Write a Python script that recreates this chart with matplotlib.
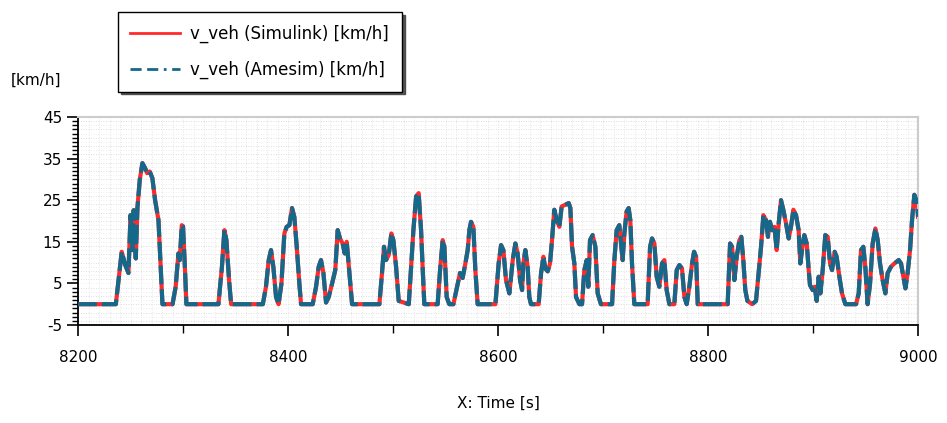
import matplotlib
matplotlib.use("Agg")
import matplotlib.pyplot as plt
import numpy as np
from matplotlib.ticker import MultipleLocator

plt.rcParams["axes.unicode_minus"] = False

# time [s] and vehicle speed [km/h]
time_s = [8200, 8236, 8241.6, 8245, 8248, 8250, 8252, 8253, 8255, 8256.6, 8258.8,
          8261.3, 8263.9, 8265.8, 8268.3, 8270.8, 8273.4, 8276.6, 8278.8, 8280.4,
          8290, 8293, 8295.6, 8296.9, 8298.8, 8300, 8302, 8303.2, 8333.7, 8337,
          8339.4, 8341.3, 8343.9, 8345.8, 8376, 8379, 8381.6, 8383.8, 8386, 8388.6,
          8391, 8393.7, 8396.5, 8398.7, 8401.3, 8403.8, 8406, 8408.3, 8410.8, 8412.4,
          8423.5, 8426.7, 8429.2, 8431.4, 8433.7, 8436.2, 8438.7, 8441.9, 8445, 8447.3,
          8449.5, 8452, 8454, 8455.9, 8458.4, 8461, 8487, 8489.5, 8491.4, 8493.3,
          8495.9, 8498.4, 8500.3, 8502.9, 8505.4, 8515, 8517, 8519.4, 8522, 8524.4,
          8526.7, 8528.3, 8529.8, 8542.5, 8544.8, 8547.3, 8548.9, 8551.1, 8553.6, 8557.5,
          8561.6, 8563.8, 8566.3, 8568.9, 8571.1, 8572.7, 8574.3, 8576.5, 8578.4, 8580.6,
          8597.5, 8600.6, 8602.9, 8605.1, 8607.6, 8610.8, 8614, 8616.5, 8618.7, 8621,
          8622.9, 8624.1, 8626, 8628.2, 8629.8, 8631.4, 8638.7, 8641, 8643.2, 8645,
          8647.3, 8649.5, 8651.4, 8653.6, 8655.9, 8658.4, 8660.6, 8664.1, 8667.3, 8668.9,
          8670.5, 8672.7, 8674.3, 8677.5, 8680, 8682.2, 8684.5, 8686, 8687.6, 8690.1,
          8692.7, 8694.9, 8698, 8708.6, 8710.8, 8713, 8715.5, 8717.1, 8718.7, 8720.3,
          8722.5, 8724.4, 8726, 8727.6, 8729.8, 8742.5, 8744.8, 8746.7, 8748.9, 8751.1,
          8753.6, 8756.2, 8758.4, 8760.6, 8763.2, 8767.9, 8770.2, 8772.7, 8775.2, 8777.5,
          8779.7, 8782.2, 8784.8, 8786.7, 8788.6, 8790.2, 8818.7, 8821, 8822.9, 8825.1,
          8827.3, 8829.9, 8831.7, 8833.6, 8835.5, 8837.5, 8842, 8845.7, 8848.2, 8850.5,
          8852.7, 8855.2, 8857.1, 8859, 8861, 8863.2, 8865.4, 8867.3, 8869.5, 8871.7,
          8874.3, 8876.8, 8879, 8881.3, 8883.8, 8886.3, 8887.9, 8889.5, 8891.7, 8894,
          8895.9, 8897.1, 8899.7, 8901.6, 8903.5, 8905.4, 8907, 8909.2, 8911.7, 8914,
          8916.2, 8918.1, 8920.6, 8922.5, 8925.1, 8927.6, 8930.8, 8941, 8943.5, 8945.7,
          8947.9, 8949.8, 8952, 8954.3, 8956.8, 8959.4, 8961.6, 8963.8, 8966.3, 8968.9,
          8971.1, 8974.3, 8977.5, 8981.6, 8983.8, 8986, 8988, 8990.1, 8992.4, 8994.3,
          8996.5, 8999, 9000]
v_simulink = [0, 0, 12.6, 9.4, 7.5, 21.4, 13, 22.6, 11, 23.3, 29.9,
              33.9, 32.7, 31.5, 31.9, 30.3, 25, 20.2, 8.2, 0,
              0, 4.2, 12.2, 10.6, 19, 18.7, 7.5, 0, 0, 8.8,
              17.8, 15.4, 5.6, 0, 0, 4.2, 10.6, 13, 9, 1.7,
              0, 4.9, 17, 18.6, 19, 23.1, 21, 13.8, 4.9, 0,
              0, 4.2, 9, 10.6, 7.5, 0.4, 1.7, 4.9, 8.2, 17.8,
              15.8, 14.6, 12.2, 15, 7.5, 0, 0, 7.5, 13.8, 10.6,
              11.8, 17, 15.4, 9, 0.8, 0, 8.2, 17.8, 25.9, 26.7,
              17.8, 8.2, 0, 0, 8.2, 15.4, 13.8, 1.7, 0, 0,
              4.9, 7.5, 6.3, 9.8, 13, 17.8, 19.8, 18.6, 8.2, 0,
              0, 9.8, 14.2, 13, 5.8, 2.6, 10.6, 14.6, 12.2, 5.8,
              3.4, 9.8, 13, 9, 1.7, 0, 0, 7.5, 11.4, 8.6,
              7.9, 9.8, 15.4, 22.7, 20.2, 18.6, 23.5, 23.9, 24.3, 23.1,
              13.8, 9.8, 1.7, 0, 0, 8.2, 10.6, 4.2, 15.4, 16.6,
              13.8, 2.6, 0, 0, 10.6, 17.8, 19, 14.6, 10.6, 17,
              22.3, 23.1, 20.2, 9.8, 0, 0, 13.8, 15.8, 14.6, 6.6,
              4.2, 9.8, 10.6, 3.4, 0, 0, 8.2, 9.4, 8.6, 1.7,
              0, 4.2, 9.8, 12.6, 11.4, 0, 0, 14.6, 13.8, 5.8,
              11.4, 15.4, 16.2, 10.6, 3.4, 0.8, 0, 0.8, 7.5, 13.8,
              21.4, 20.2, 16.2, 19.8, 17.8, 18.6, 13, 19.4, 25, 22.7,
              19.4, 15.8, 18.6, 22.7, 21.4, 17.8, 9.8, 13, 16.6, 14.6,
              8.2, 4.6, 3.4, 4.2, 0.8, 6.6, 2.6, 8.2, 16.6, 16.2,
              9.8, 8.2, 12.6, 11.4, 6.6, 2.6, 0, 0, 2.6, 13,
              13.8, 9, 0, 4.9, 14.6, 18.2, 15.4, 9.8, 5.8, 2.6,
              7.5, 9, 9.8, 10.6, 9.8, 6.6, 3.8, 7.5, 13, 20.2,
              26.3, 24.7, 21]
v_amesim = list(v_simulink)

label_sim = "v_veh (Simulink) [km/h]"
label_ame = "v_veh (Amesim) [km/h]"

fig = plt.figure(figsize=(9.47, 4.23), dpi=100)
ax = fig.add_axes([0.0824, 0.2317, 0.887, 0.4917])

# dotted background grid
for gx in np.arange(8210, 9000, 10):
    ax.axvline(gx, color="#dddddd", lw=0.6, ls=(0, (1, 2)), zorder=0)
for gy in np.arange(-4, 45, 1):
    ax.axhline(gy, color="#d2d2d2" if gy % 2 == 0 else "#ebebeb", lw=0.6, ls=(0, (1, 2)), zorder=0)

ax.plot(time_s, v_simulink, color="#ff2a2a", lw=3.0, solid_joinstyle="round", label=label_sim, zorder=2)
ax.plot(time_s, v_amesim, color="#15688a", lw=3.0, dashes=(4.5, 1.2), label=label_ame, zorder=3)

ax.set_xlim(8200, 9000)
ax.set_ylim(-5, 45)
ax.xaxis.set_major_locator(MultipleLocator(200))
ax.xaxis.set_minor_locator(MultipleLocator(100))
ax.set_yticks(np.arange(-5, 46, 10))
ax.yaxis.set_minor_locator(MultipleLocator(1))
ax.tick_params(axis="both", which="major", direction="out", length=8, width=1.2, labelsize=11, colors="black")
ax.tick_params(axis="x", which="minor", direction="out", length=6, width=1.0)
ax.tick_params(axis="y", which="minor", direction="out", length=4, width=1.0)
ax.tick_params(axis="x", pad=10)

for side in ["top", "right"]:
    ax.spines[side].set_color("#cccccc")
    ax.spines[side].set_linewidth(1.5)
for side in ["left", "bottom"]:
    ax.spines[side].set_color("black")
    ax.spines[side].set_linewidth(1.3)

ax.set_xlabel("X: Time [s]", fontsize=11, labelpad=22)
fig.text(0.011, 0.81, "[km/h]", fontsize=11, ha="left", va="center")

h1, = ax.plot([], [], color="#ff2a2a", lw=2)
h2, = ax.plot([], [], color="#15688a", lw=2, dashes=(4, 2, 4, 2, 1, 2))
leg = fig.legend([h1, h2], [label_sim, label_ame], loc="upper left",
                 bbox_to_anchor=(0.1246, 0.972), borderaxespad=0, fontsize=12,
                 frameon=True, fancybox=False, shadow={"color": "#444444", "alpha": 0.9},
                 handlelength=3.0, labelspacing=1.1, borderpad=0.75, handletextpad=0.6)
leg.get_frame().set_edgecolor("black")
leg.get_frame().set_linewidth(1.0)

fig.savefig("out.png", dpi=100)
